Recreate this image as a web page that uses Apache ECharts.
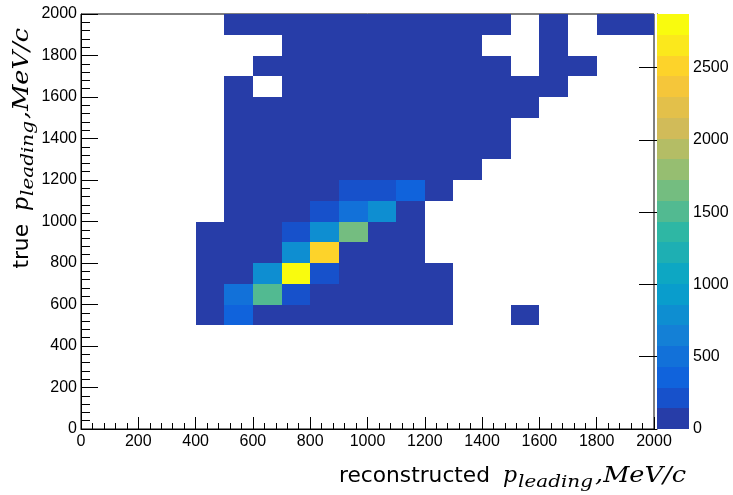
<!DOCTYPE html>
<html>
<head>
<meta charset="utf-8">
<title>Leading momentum response matrix</title>
<script src="https://cdn.jsdelivr.net/npm/echarts@6/dist/echarts.min.js"></script>
<style>
  html, body { margin: 0; padding: 0; background: #fff; }
  #chart { width: 733px; height: 495px; }
</style>
</head>
<body>
<div id="chart"></div>
<script>
// Lower edges of the 100 MeV/c bins (same binning on both axes)
const binLow = [0, 100, 200, 300, 400, 500, 600, 700, 800, 900,
                1000, 1100, 1200, 1300, 1400, 1500, 1600, 1700, 1800, 1900];
const binWidth = 100;

// Entries per bin: one row per true-momentum bin, one column per reconstructed bin
const counts = [
  /*    0 */ [0,0,0,0,0,0,0,0,0,0,0,0,0,0,0,0,0,0,0,0],
  /*  100 */ [0,0,0,0,0,0,0,0,0,0,0,0,0,0,0,0,0,0,0,0],
  /*  200 */ [0,0,0,0,0,0,0,0,0,0,0,0,0,0,0,0,0,0,0,0],
  /*  300 */ [0,0,0,0,0,0,0,0,0,0,0,0,0,0,0,0,0,0,0,0],
  /*  400 */ [0,0,0,0,0,0,0,0,0,0,0,0,0,0,0,0,0,0,0,0],
  /*  500 */ [0,0,0,0,40,380,110,70,45,30,18,10,4,0,0,1,0,0,0,0],
  /*  600 */ [0,0,0,0,35,470,1520,230,90,50,28,14,6,0,0,0,0,0,0,0],
  /*  700 */ [0,0,0,0,20,120,780,2870,260,100,45,20,8,0,0,0,0,0,0,0],
  /*  800 */ [0,0,0,0,12,60,130,820,2500,135,50,18,0,0,0,0,0,0,0,0],
  /*  900 */ [0,0,0,0,6,30,75,240,770,1640,120,35,0,0,0,0,0,0,0,0],
  /* 1000 */ [0,0,0,0,0,15,40,110,250,480,800,95,0,0,0,0,0,0,0,0],
  /* 1100 */ [0,0,0,0,0,9,22,55,125,210,190,350,40,0,0,0,0,0,0,0],
  /* 1200 */ [0,0,0,0,0,5,12,28,60,95,110,100,85,12,0,0,0,0,0,0],
  /* 1300 */ [0,0,0,0,0,3,7,15,30,45,60,62,55,30,6,0,0,0,0,0],
  /* 1400 */ [0,0,0,0,0,2,4,8,16,25,32,38,36,25,9,0,0,0,0,0],
  /* 1500 */ [0,0,0,0,0,1,2,5,9,14,18,22,20,16,8,2,0,0,0,0],
  /* 1600 */ [0,0,0,0,0,1,0,2,5,8,10,12,11,9,5,2,1,0,0,0],
  /* 1700 */ [0,0,0,0,0,0,1,1,3,4,6,7,6,5,3,0,1,1,0,0],
  /* 1800 */ [0,0,0,0,0,0,0,1,2,3,4,4,3,2,0,0,1,0,0,0],
  /* 1900 */ [0,0,0,0,0,1,1,1,2,2,3,3,2,2,1,0,1,0,1,1]
];

// Axis tick labels
const axisTicks = [0, 200, 400, 600, 800, 1000, 1200, 1400, 1600, 1800, 2000];
const zTicks = [0, 500, 1000, 1500, 2000, 2500];
const zMax = 2870;      // top of the colour scale (largest bin)
const nLevels = 20;     // number of colour contours

// "Bird" palette stops
const birdStops = {
  r: [0.2082, 0.0592, 0.0780, 0.0232, 0.1802, 0.5301, 0.8186, 0.9956, 0.9764],
  g: [0.1664, 0.3599, 0.5041, 0.6419, 0.7178, 0.7492, 0.7328, 0.7862, 0.9832],
  b: [0.5293, 0.8684, 0.8385, 0.7914, 0.6425, 0.4662, 0.3499, 0.1968, 0.0539]
};

function birdColor(pos) {
  const n = birdStops.r.length - 1;
  const s = Math.min(Math.floor(pos * n), n - 1);
  const t = pos * n - s;
  const ch = a => Math.round(255 * (a[s] + (a[s + 1] - a[s]) * t));
  return 'rgb(' + ch(birdStops.r) + ',' + ch(birdStops.g) + ',' + ch(birdStops.b) + ')';
}

// One colour per contour level, sampled from a 255-entry gradient
const levelColors = [];
for (let i = 0; i < nLevels; i++) {
  const idx = Math.floor((i + 0.99) * 255 / nLevels);
  levelColors.push(birdColor(Math.min(idx, 254) / 254));
}
const levelStep = zMax / nLevels;
const pieces = levelColors.map((c, i) => (
  i === nLevels - 1
    ? { gte: i * levelStep, lte: zMax * 10, color: c }
    : { gte: i * levelStep, lt: (i + 1) * levelStep, color: c }
));

// Filled bins only
const cellData = [];
counts.forEach((row, j) => {
  row.forEach((v, i) => {
    if (v > 0) cellData.push([binLow[i], binLow[j], v]);
  });
});

const paletteData = levelColors.map((c, i) => [i * levelStep, (i + 1) * levelStep, i]);

// Rectangle between two corner points, snapped to whole pixels so
// neighbouring bins meet without seams
function snappedRect(a, b, fill) {
  const x0 = Math.round(a[0]), y0 = Math.round(a[1]);
  const x1 = Math.round(b[0]), y1 = Math.round(b[1]);
  return {
    type: 'rect',
    shape: { x: x0, y: y0, width: x1 - x0, height: y1 - y0 },
    style: { fill: fill }
  };
}

function renderCell(params, api) {
  const x0 = api.value(0), y0 = api.value(1);
  const a = api.coord([x0, y0 + binWidth]);
  const b = api.coord([x0 + binWidth, y0]);
  return snappedRect(a, b, api.visual('color'));
}

function renderBand(params, api) {
  const a = api.coord([0, api.value(1)]);
  const b = api.coord([1, api.value(0)]);
  return snappedRect(a, b, levelColors[api.value(2)]);
}

// Axis titles: sans-serif word followed by an italic math part
const measureCtx = document.createElement('canvas').getContext('2d');
function textWidth(text, font) {
  measureCtx.font = font;
  return measureCtx.measureText(text).width;
}
const sansFont = '21px "DejaVu Sans"';
const mathFont = 'italic 22px "DejaVu Serif"';
const subFont = 'italic 17px "DejaVu Serif"';
const sansScale = 151 / textWidth('reconstructed', sansFont);
const tailScale = 91 / textWidth(',MeV/c', mathFont);
const subScale = 75 / textWidth('leading', subFont);

function titleParts(word) {
  const mid = s => -0.34 * s;
  return [
    { type: 'text', x: -196, y: mid(21), scaleX: sansScale,
      style: { text: word, font: sansFont, fill: '#000', align: 'right', verticalAlign: 'middle' } },
    { type: 'text', x: -183, y: mid(22),
      style: { text: 'p', font: mathFont, fill: '#000', align: 'left', verticalAlign: 'middle' } },
    { type: 'text', x: -168, y: 4 + mid(17), scaleX: subScale,
      style: { text: 'leading', font: subFont, fill: '#000', align: 'left', verticalAlign: 'middle' } },
    { type: 'text', x: 0, y: mid(22), scaleX: tailScale,
      style: { text: ',MeV/c', font: mathFont, fill: '#000', align: 'right', verticalAlign: 'middle' } }
  ];
}

const labelFont = { fontFamily: '"Liberation Sans", Arial, sans-serif', fontSize: 16, color: '#000' };
const plain = v => String(v);

const chart = echarts.init(document.getElementById('chart'), null, { renderer: 'canvas' });
chart.setOption({
  backgroundColor: '#fff',
  animation: false,
  grid: [
    { left: 81, right: 79, top: 14, bottom: 66, show: true, borderColor: '#000', borderWidth: 1, backgroundColor: 'transparent' },
    { left: 657, right: 44, top: 14, bottom: 66, show: false }
  ],
  xAxis: [
    {
      gridIndex: 0, type: 'value', min: axisTicks[0], max: axisTicks[axisTicks.length - 1], interval: 200,
      axisLine: { show: true, lineStyle: { color: '#000', width: 1 } },
      axisTick: { show: true, inside: true, length: 12, lineStyle: { color: '#000' } },
      minorTick: { show: true, splitNumber: 5, length: 6, lineStyle: { color: '#000' } },
      splitLine: { show: false },
      axisLabel: Object.assign({ margin: 5, customValues: axisTicks, formatter: plain }, labelFont)
    },
    { gridIndex: 1, type: 'value', min: 0, max: 1, show: false }
  ],
  yAxis: [
    {
      gridIndex: 0, type: 'value', min: axisTicks[0], max: axisTicks[axisTicks.length - 1], interval: 200,
      axisLine: { show: true, lineStyle: { color: '#000', width: 1 } },
      axisTick: { show: true, inside: true, length: 17, lineStyle: { color: '#000' } },
      minorTick: { show: true, splitNumber: 5, length: 9, lineStyle: { color: '#000' } },
      splitLine: { show: false },
      axisLabel: Object.assign({ margin: 4, customValues: axisTicks, formatter: plain }, labelFont)
    },
    {
      gridIndex: 1, type: 'value', min: 0, max: zMax, position: 'right',
      axisLine: { show: true, lineStyle: { color: '#000', width: 1 } },
      axisTick: { show: true, inside: true, length: 18, customValues: zTicks, lineStyle: { color: '#000' } },
      splitLine: { show: false },
      axisLabel: Object.assign({ margin: 4, customValues: zTicks, formatter: plain }, labelFont)
    }
  ],
  visualMap: {
    type: 'piecewise', show: false, seriesIndex: 0, dimension: 2, pieces: pieces
  },
  series: [
    {
      type: 'custom', xAxisIndex: 0, yAxisIndex: 0,
      renderItem: renderCell, data: cellData, clip: true
    },
    {
      type: 'custom', xAxisIndex: 1, yAxisIndex: 1,
      renderItem: renderBand, data: paletteData
    }
  ],
  graphic: [
    { type: 'group', x: 686, y: 484, children: titleParts('reconstructed') },
    { type: 'group', x: 30, y: 28, rotation: Math.PI / 2, children: titleParts('true') }
  ]
});
</script>
</body>
</html>
